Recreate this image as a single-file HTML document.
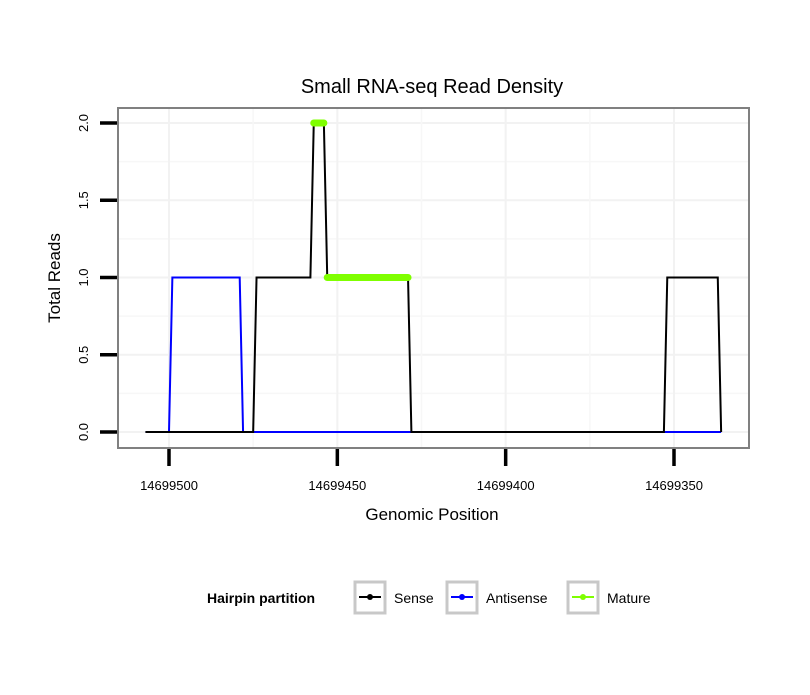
<!DOCTYPE html>
<html><head><meta charset="utf-8"><style>
body{margin:0;background:#fff;font-family:"Liberation Sans",sans-serif}
svg text{font-family:"Liberation Sans",sans-serif}
</style></head><body>
<svg id="c" width="810" height="690">
<defs><clipPath id="panelClip"><rect x="118" y="108" width="631" height="340"/></clipPath></defs>
<text x="432" y="93" font-size="20" text-anchor="middle">Small RNA-seq Read Density</text>
<g id="grid" clip-path="url(#panelClip)"></g>
<rect x="118" y="108" width="631" height="340" fill="none" stroke="#808080" stroke-width="2"/>
<g id="series"></g>
<g id="axes"></g>
<text x="432" y="520" font-size="17" text-anchor="middle">Genomic Position</text>
<text transform="translate(60,278) rotate(-90)" font-size="17" text-anchor="middle">Total Reads</text>
<g>
<text x="207" y="603" font-size="14" font-weight="bold">Hairpin partition</text>
<g id="legend"></g>
</g>
</svg>
<script>
const xTicks=[14699500,14699450,14699400,14699350];
const yTicks=[0,0.5,1,1.5,2];
const yTickLabels=["0.0","0.5","1.0","1.5","2.0"];
const senseX=[14699507,14699475,14699474,14699458,14699457,14699454,14699453,14699429,14699428,14699353,14699352,14699337,14699336];
const senseY=[0,0,1,1,2,2,1,1,0,0,1,1,0];
const antiX=[14699507,14699500,14699499,14699479,14699478,14699336];
const antiY=[0,0,1,1,0,0];
const matureSegX=[[14699457,14699454],[14699453,14699429]];
const matureSegY=[2,1];
const seriesNames=["Sense","Antisense","Mature"];
const seriesColors=["#000000","#0000ff","#7fff00"];

const NS="http://www.w3.org/2000/svg";
function X(v){return 169+(14699500-v)*(505/150);}
function Y(v){return 432-v*154.5;}
function mk(tag,attrs,parent){const e=document.createElementNS(NS,tag);for(const k in attrs)e.setAttribute(k,attrs[k]);parent.appendChild(e);return e;}
const grid=document.getElementById('grid'),axes=document.getElementById('axes'),ser=document.getElementById('series'),leg=document.getElementById('legend');
for(let i=0;i<yTicks.length;i++){
 const l=mk('line',{x1:118,x2:749,y1:Y(yTicks[i]),y2:Y(yTicks[i]),stroke:'#f2f2f2','stroke-width':2},grid);
 
 
 const l2=mk('line',{x1:118,x2:749,y1:Y(yTicks[i]+0.25),y2:Y(yTicks[i]+0.25),stroke:'#f7f7f7','stroke-width':1.5},grid);
 
 
 const t=mk('line',{x1:100,x2:117,y1:Y(yTicks[i]),y2:Y(yTicks[i]),stroke:'#000','stroke-width':3.5},axes);
 
 
 const tx=mk('text',{transform:`translate(88,${Y(yTicks[i])}) rotate(-90)`,'font-size':13,'text-anchor':'middle'},axes);
 tx.textContent=yTickLabels[i];
 
 
}
for(let i=0;i<xTicks.length;i++){
 const l=mk('line',{x1:X(xTicks[i]),x2:X(xTicks[i]),y1:108,y2:448,stroke:'#f2f2f2','stroke-width':2},grid);
 
 
 const l2=mk('line',{x1:X(xTicks[i]-25),x2:X(xTicks[i]-25),y1:108,y2:448,stroke:'#f7f7f7','stroke-width':1.5},grid);
 
 
 const t=mk('line',{x1:X(xTicks[i]),x2:X(xTicks[i]),y1:449,y2:466,stroke:'#000','stroke-width':3.5},axes);
 
 
 const tx=mk('text',{x:X(xTicks[i]),y:490,'font-size':13,'text-anchor':'middle'},axes);
 tx.textContent=xTicks[i];
 
 
}
function pts(xs,ys){return xs.map((v,i)=>X(v)+','+Y(ys[i])).join(' ');}
const pa=mk('polyline',{points:pts(antiX,antiY),fill:'none',stroke:seriesColors[1],'stroke-width':2},ser);


const ps=mk('polyline',{points:pts(senseX,senseY),fill:'none',stroke:seriesColors[0],'stroke-width':2},ser);


for(let i=0;i<matureSegX.length;i++){
 const m=mk('line',{x1:X(matureSegX[i][0]),x2:X(matureSegX[i][1]),y1:Y(matureSegY[i]),y2:Y(matureSegY[i]),stroke:seriesColors[2],'stroke-width':7,'stroke-linecap':'round'},ser);
 
 
}
const legX=[354,446,567];
for(let i=0;i<3;i++){
 const r=mk('rect',{x:legX[i]+1,y:582,width:30,height:31,fill:'#fff',stroke:'#c8c8c8','stroke-width':3},leg);
 
 
 const l=mk('line',{x1:legX[i]+5,x2:legX[i]+27,y1:597,y2:597,stroke:seriesColors[i],'stroke-width':2},leg);
 
 
 const c=mk('circle',{cx:legX[i]+16,cy:597,r:3,fill:seriesColors[i]},leg);
 
 
 const t=mk('text',{x:legX[i]+40,y:603,'font-size':14},leg);
 t.textContent=seriesNames[i];
 
 
}
</script>
</body></html>
